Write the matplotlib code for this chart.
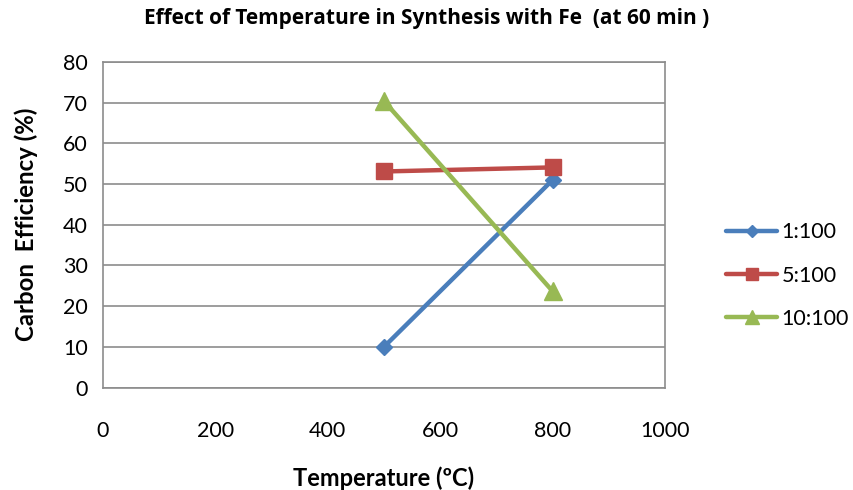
import matplotlib
matplotlib.use("Agg")
import matplotlib.pyplot as plt

plt.rcParams['font.family'] = ['Lato', 'DejaVu Sans']

temps = [500, 800]
s1 = [10.0, 51.0]
s2 = [53.1, 54.1]
s3 = [70.4, 23.7]
labels = ["1:100", "5:100", "10:100"]
xticks = [0, 200, 400, 600, 800, 1000]
yticks = [0, 10, 20, 30, 40, 50, 60, 70, 80]

fig = plt.figure(figsize=(8.54, 4.90), dpi=100)
ax = fig.add_axes([0.1206, 0.209, 0.658, 0.6645])

ax.plot(temps, s1, color='#4A7EBB', lw=3.2, marker='D', ms=8, label=labels[0], solid_capstyle='round')
ax.plot(temps, s2, color='#BE4B48', lw=3.2, marker='s', ms=11, label=labels[1], solid_capstyle='round')
ax.plot(temps, s3, color='#98B954', lw=3.2, marker='^', ms=13, label=labels[2], solid_capstyle='round')

ax.set_xlim(0, 1000)
ax.set_ylim(0, 80)
ax.set_xticks(xticks)
ax.set_yticks(yticks)
ax.grid(axis='y', color='#8c8c8c', lw=1.2)
ax.set_axisbelow(True)
for sp in ax.spines.values():
    sp.set_color('#8c8c8c')
    sp.set_linewidth(1.2)
ax.tick_params(axis='both', length=0, labelsize=15.5)
ax.tick_params(axis='x', pad=24)
ax.tick_params(axis='y', pad=11)

ax.set_xlabel('Temperature (ºC)', fontsize=17, fontweight='bold', labelpad=18)
ax.set_ylabel('Carbon  Efficiency (%)', fontsize=17.3, fontweight='bold', labelpad=18)
fig.text(0.5, 0.962, 'Effect of Temperature in Synthesis with Fe  (at 60 min )', ha='center', va='center',
         fontsize=15, fontweight='bold', family=['Open Sans', 'DejaVu Sans'])

leg = ax.legend(loc='center left', bbox_to_anchor=(1.075, 0.344), frameon=False, fontsize=15.5,
                handlelength=2.35, labelspacing=1.08, handletextpad=0.2, markerscale=0.8)

fig.savefig('out.png', dpi=100)
